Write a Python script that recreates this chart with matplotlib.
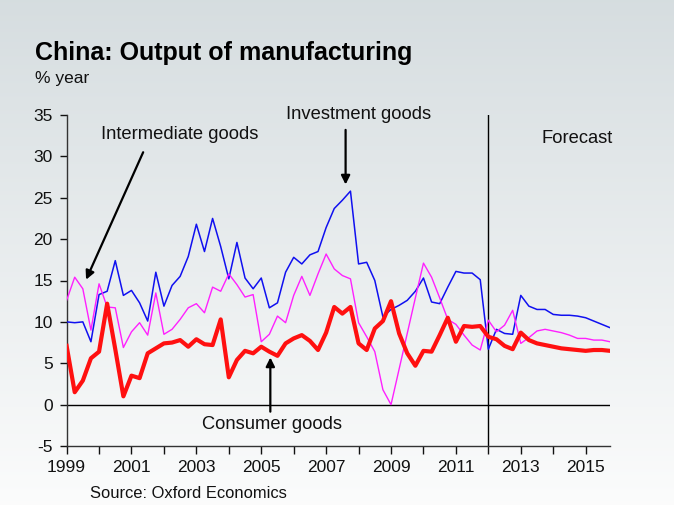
import numpy as np
import matplotlib
matplotlib.use("Agg")
import matplotlib.pyplot as plt
from matplotlib.ticker import FixedLocator, FixedFormatter

plt.rcParams['font.family'] = ['Liberation Sans', 'DejaVu Sans']
plt.rcParams['axes.unicode_minus'] = False

# Quarterly data, 1999Q1 .. 2015Q4 (% year)
start_year = 1999.0
investment = [10.0, 9.9, 10.0, 7.6, 13.3, 13.7, 17.4, 13.2, 13.8, 12.3, 10.1, 16.0,
              11.9, 14.4, 15.5, 17.9, 21.8, 18.5, 22.5, 19.1, 15.2, 19.6, 15.3, 14.0,
              15.3, 11.7, 12.3, 16.0, 17.8, 17.0, 18.1, 18.5, 21.4, 23.7, 24.7, 25.8,
              17.0, 17.2, 15.0, 10.6, 11.5, 12.0, 12.6, 13.7, 15.3, 12.4, 12.2, 14.2,
              16.1, 15.9, 15.9, 15.1, 6.7, 9.1, 8.6, 8.5, 13.2, 11.9, 11.5, 11.5,
              10.9, 10.8, 10.8, 10.7, 10.5, 10.1, 9.7, 9.3]
intermediate = [12.6, 15.4, 14.0, 9.0, 14.6, 11.8, 11.7, 6.9, 8.8, 9.9, 8.4, 13.5,
                8.5, 9.1, 10.3, 11.7, 12.2, 11.1, 14.2, 13.7, 15.8, 14.5, 13.0, 13.3,
                7.6, 8.5, 10.7, 9.9, 13.2, 15.5, 13.2, 15.8, 18.2, 16.4, 15.6, 15.2,
                9.9, 8.2, 6.4, 1.8, 0.0, 4.3, 8.6, 12.9, 17.1, 15.4, 12.9, 10.3,
                9.7, 8.4, 7.2, 6.6, 10.2, 8.8, 9.6, 11.4, 7.4, 8.1, 8.9, 9.1,
                8.9, 8.7, 8.4, 8.0, 8.0, 7.8, 7.8, 7.6]
consumer = [7.1, 1.5, 2.9, 5.6, 6.4, 12.2, 6.7, 1.0, 3.5, 3.2, 6.2, 6.8,
            7.4, 7.5, 7.8, 7.0, 7.9, 7.3, 7.2, 10.3, 3.3, 5.4, 6.5, 6.2,
            7.0, 6.4, 5.9, 7.4, 8.0, 8.4, 7.7, 6.6, 8.7, 11.8, 11.0, 11.8,
            7.4, 6.6, 9.2, 10.1, 12.5, 8.6, 6.2, 4.7, 6.5, 6.4, 8.4, 10.5,
            7.6, 9.5, 9.4, 9.5, 8.2, 7.9, 7.1, 6.7, 8.7, 7.8, 7.4, 7.2,
            7.0, 6.8, 6.7, 6.6, 6.5, 6.6, 6.6, 6.5]
year_ticks = list(range(1999, 2016))
year_labels = [str(y) if y % 2 == 1 else "" for y in year_ticks]
y_ticks = [-5, 0, 5, 10, 15, 20, 25, 30, 35]
forecast_start = 2012.0

x = start_year + np.arange(len(consumer)) * 0.25

fig = plt.figure(figsize=(6.74, 5.05), dpi=100)

# gradient background
bg = fig.add_axes([0, 0, 1, 1], zorder=-10)
grad = np.linspace(0, 1, 256).reshape(-1, 1)
top = np.array([0.839, 0.867, 0.878])
bot = np.array([0.985, 0.988, 0.988])
img = top[None, None, :] * (1 - grad[:, :, None]) + bot[None, None, :] * grad[:, :, None]
bg.imshow(img, aspect='auto', extent=[0, 1, 0, 1])
bg.axis('off')

ax = fig.add_axes([66.6 / 674, (505 - 446) / 505, (610 - 66.6) / 674, (446 - 115) / 505])
ax.patch.set_alpha(0)

ax.plot(x, investment, color='#1010f0', lw=1.1, zorder=3)
ax.plot(x, intermediate, color='#ff20ff', lw=1.0, zorder=3)
ax.plot(x, consumer, color='#ff1010', lw=3.0, zorder=4)

ax.axhline(0, color='black', lw=1.0, zorder=2)
ax.axvline(forecast_start, color='black', lw=1.0, zorder=2)

ax.set_xlim(start_year, x[-1])
ax.set_ylim(-5, 35)
for s in ['top', 'right']:
    ax.spines[s].set_visible(False)
for s in ['left', 'bottom']:
    ax.spines[s].set_color('#333333')
    ax.spines[s].set_linewidth(1.0)

ax.xaxis.set_major_locator(FixedLocator(year_ticks))
ax.xaxis.set_major_formatter(FixedFormatter(year_labels))
ax.set_yticks(y_ticks)
ax.tick_params(axis='x', direction='out', length=6, width=1, labelsize=12.5, pad=4, colors='#111111')
ax.tick_params(axis='y', direction='out', length=5, width=1, labelsize=12.5, pad=5, colors='#111111')

fs = 13.2
ap = dict(arrowstyle='-|>', color='black', lw=1.6, mutation_scale=13, shrinkA=0, shrinkB=0)
ax.text(2002.5, 32.6, "Intermediate goods", ha='center', va='center', fontsize=fs, color='#111111')
ax.annotate("", xy=(1999.6, 15.1), xytext=(2001.36, 30.5), arrowprops=ap)
ax.text(2008.0, 35.1, "Investment goods", ha='center', va='center', fontsize=fs, color='#111111')
ax.annotate("", xy=(2007.6, 26.6), xytext=(2007.6, 33.2), arrowprops=ap)
ax.text(2005.34, -2.4, "Consumer goods", ha='center', va='center', fontsize=fs, color='#111111')
ax.annotate("", xy=(2005.28, 5.7), xytext=(2005.28, -0.85), arrowprops=ap)
ax.text(2014.75, 32.2, "Forecast", ha='center', va='center', fontsize=fs, color='#111111')

fig.text(35 / 674, 1 - 60 / 505, "China: Output of manufacturing", fontsize=18, fontweight='bold',
         ha='left', va='baseline', color='black')
fig.text(35 / 674, 1 - 83 / 505, "% year", fontsize=12.5, ha='left', va='baseline', color='#111111')
fig.text(90 / 674, 1 - 498 / 505, "Source: Oxford Economics", fontsize=11.9, ha='left', va='baseline',
         color='#111111')

fig.savefig("out.png", dpi=100)
